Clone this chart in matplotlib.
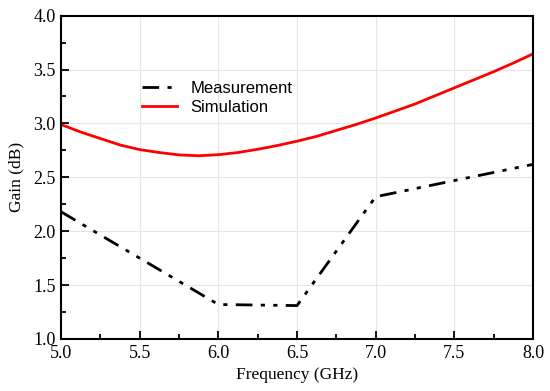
import matplotlib.pyplot as plt
from matplotlib.ticker import MultipleLocator

# measured gain (piecewise)
meas_freq = [5.0, 6.0, 6.5, 7.0, 8.0]
meas_gain = [2.18, 1.32, 1.31, 2.32, 2.62]

# simulated gain
sim_freq = [5.0, 5.125, 5.25, 5.375, 5.5, 5.625, 5.75, 5.875, 6.0, 6.125, 6.25, 6.375, 6.5,
            6.625, 6.75, 6.875, 7.0, 7.125, 7.25, 7.375, 7.5, 7.625, 7.75, 7.875, 8.0]
sim_gain = [2.99, 2.92, 2.86, 2.80, 2.757, 2.73, 2.708, 2.70, 2.71, 2.73, 2.76, 2.795, 2.835,
            2.88, 2.935, 2.99, 3.05, 3.115, 3.18, 3.255, 3.33, 3.405, 3.48, 3.56, 3.645]

fig = plt.figure(figsize=(5.5, 3.91), dpi=100)
ax = fig.add_axes([0.111, 0.133, 0.858, 0.827])

ax.plot(meas_freq, meas_gain, color='black', lw=2,
        dashes=(6, 3, 1.5, 3, 1.5, 3), label='Measurement')
ax.plot(sim_freq, sim_gain, color='#ff0000', lw=2, label='Simulation')

ax.set_xlim(5.0, 8.0)
ax.set_ylim(1.0, 4.0)
ax.xaxis.set_major_locator(MultipleLocator(0.5))
ax.xaxis.set_minor_locator(MultipleLocator(0.25))
ax.yaxis.set_major_locator(MultipleLocator(0.5))
ax.yaxis.set_minor_locator(MultipleLocator(0.25))
ax.tick_params(which='both', direction='in', top=False, right=False, width=1.3)
ax.tick_params(which='major', length=6, labelsize=13, pad=4)
ax.tick_params(which='minor', length=3.5)
for lab in ax.get_xticklabels() + ax.get_yticklabels():
    lab.set_family('Liberation Serif')
ax.grid(True, which='major', color='#e6e6e6', lw=0.8)
ax.set_axisbelow(True)
for sp in ax.spines.values():
    sp.set_linewidth(1.5)

ax.set_xlabel('Frequency (GHz)', family='Liberation Serif', fontsize=12.5, labelpad=4)
ax.set_ylabel('Gain (dB)', family='Liberation Serif', fontsize=12.5, labelpad=6)

leg = ax.legend(loc='upper left', bbox_to_anchor=(0.14, 0.845), frameon=False,
                prop={'family': 'Liberation Sans', 'size': 12},
                handlelength=2.1, handletextpad=0.8, labelspacing=0.25)

fig.savefig('out.png', dpi=100)
